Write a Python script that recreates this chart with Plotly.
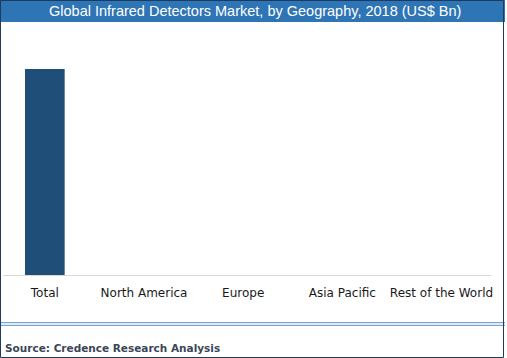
import plotly.graph_objects as go

categories = ["Total", "North America", "Europe", "Asia Pacific", "Rest of the World"]
values = [1.0, 0, 0, 0, 0]
title_text = "Global Infrared Detectors Market, by Geography, 2018 (US$ Bn)"
source_text = "Source: Credence Research Analysis"

W, H = 507, 358

def px(x):
    return x / W

def py(y):
    return 1 - y / H

fig = go.Figure()
fig.add_trace(go.Bar(
    x=list(range(len(categories))),
    y=values,
    width=0.40,
    marker=dict(color="#1F4E79", line=dict(width=0)),
    hoverinfo="skip",
))

ymax = max(values) * (252 / 206)

fig.update_layout(
    width=W, height=H,
    margin=dict(l=0, r=0, t=0, b=0),
    paper_bgcolor="white",
    plot_bgcolor="white",
    showlegend=False,
    xaxis=dict(
        domain=[px(3), px(493)],
        range=[-0.422, 4.5],
        tickmode="array",
        tickvals=list(range(len(categories))),
        ticktext=categories,
        showgrid=False, zeroline=False,
        showline=True, linecolor="#D9D9D9", linewidth=1,
        ticks="outside", ticklen=7, tickcolor="rgba(0,0,0,0)",
        tickfont=dict(family="DejaVu Sans", size=12, color="#1a1a1a"),
    ),
    yaxis=dict(
        domain=[py(275), py(23)],
        range=[0, ymax],
        showgrid=False, zeroline=False, showline=False,
        showticklabels=False,
    ),
    shapes=[
        dict(type="rect", xref="paper", yref="paper",
             x0=0, x1=1, y0=py(22), y1=1,
             fillcolor="#2E75B6", line=dict(width=0), layer="below"),
        dict(type="line", xref="paper", yref="paper",
             x0=0, x1=1, y0=py(322.7), y1=py(322.7),
             line=dict(color="#5B8FC7", width=1)),
        dict(type="line", xref="paper", yref="paper",
             x0=0, x1=1, y0=py(325.3), y1=py(325.3),
             line=dict(color="#5B8FC7", width=1)),
        dict(type="rect", xref="paper", yref="paper",
             x0=px(0.5), x1=px(W - 1.5), y0=py(H - 0.5), y1=py(0.5),
             line=dict(color="#1F3A5F", width=1), fillcolor="rgba(0,0,0,0)"),
    ],
    annotations=[
        dict(text=title_text, xref="paper", yref="paper",
             x=px(256), y=py(11), xanchor="center", yanchor="middle",
             showarrow=False,
             font=dict(family="Liberation Sans, Arial", size=14.5, color="white")),
        dict(text="<b>" + source_text + "</b>", xref="paper", yref="paper",
             x=px(3), y=py(348), xanchor="left", yanchor="middle",
             showarrow=False,
             font=dict(family="DejaVu Sans", size=10.5, color="#3C4658")),
    ],
)

fig.write_html(
    "out.html",
    config={"displayModeBar": False},
    post_script="document.body.style.margin='0';document.body.style.overflow='hidden';",
)
